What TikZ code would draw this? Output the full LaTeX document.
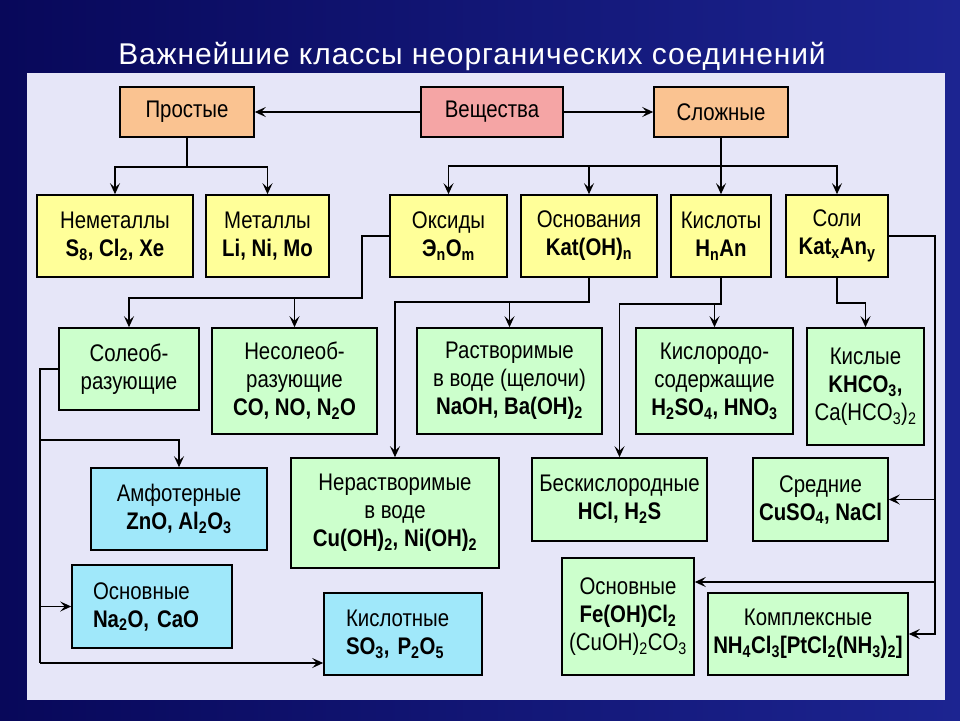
\documentclass[tikz,border=0pt]{standalone}
\usepackage{fontspec}
\setmainfont{Liberation Sans}[FakeStretch=0.85]
\newfontfamily\titlefont{Liberation Sans}[LetterSpace=3]
\usetikzlibrary{arrows.meta}
\definecolor{bgA}{RGB}{8,8,90}
\definecolor{bgB}{RGB}{28,36,145}
\definecolor{panel}{RGB}{230,230,248}
\definecolor{cyel}{RGB}{255,255,153}
\definecolor{cgrn}{RGB}{204,255,204}
\definecolor{cblu}{RGB}{160,232,250}
\definecolor{corg}{RGB}{250,195,145}
\definecolor{cpnk}{RGB}{245,165,165}
\newcommand\mkbox[7]{\node[bx,#2,minimum width={#5-#3},minimum height={#6-#4}] (#1) at ({(#3+#5)/2},{(#4+#6)/2}) {#7};}
\newcommand\sub[1]{\textsubscript{#1}}
\tikzset{
  bx/.style={draw=black,line width=1.6pt,inner sep=0pt,align=center,font=\fontsize{24}{28}\selectfont},
  arr/.style={line width=1.5pt,-{Stealth[length=11pt,width=10pt,inset=4.5pt]}},
  ln/.style={line width=1.5pt},
}
\begin{document}
\begin{tikzpicture}[x=1pt,y=-1pt]
\useasboundingbox (0,0) rectangle (960,720);
\shade[left color=bgA,right color=bgB] (0,0) rectangle (960,720);
\fill[panel] (27,73) rectangle (945,700);
\node[text=white,font=\titlefont\fontsize{30}{32}\selectfont] (title) at (472,56) {Важнейшие классы неорганических соединений};
% row 0
\mkbox{prost}{fill=corg}{120}{87}{254}{137}{Простые}
\mkbox{vesh}{fill=cpnk}{421}{87}{563}{137}{Вещества}
\mkbox{slozh}{fill=corg}{654}{87}{788}{137}{Сложные}
% row 1
\mkbox{nemet}{fill=cyel}{37}{195}{193}{277}{Неметаллы\\\textbf{S\sub{8}, Cl\sub{2}, Xe}}
\mkbox{met}{fill=cyel}{206}{195}{329}{277}{Металлы\\\textbf{Li, Ni, Mo}}
\mkbox{oks}{fill=cyel}{390}{195}{507}{277}{Оксиды\\\textbf{Э\sub{n}O\sub{m}}}
\mkbox{osn}{fill=cyel}{521}{195}{657}{277}{Основания\\\textbf{Kat(OH)\sub{n}}}
\mkbox{kisl}{fill=cyel}{671}{195}{771}{277}{Кислоты\\\textbf{H\sub{n}An}}
\mkbox{soli}{fill=cyel}{786}{195}{888}{277}{Соли\\\textbf{Kat\sub{x}An\sub{y}}}
% row 2
\mkbox{soleob}{fill=cgrn}{59}{328}{199}{410}{Солеоб-\\разующие}
\mkbox{nesoleob}{fill=cgrn}{212}{328}{377}{434}{Несолеоб-\\разующие\\\textbf{CO, NO, N\sub{2}O}}
\mkbox{rastv}{fill=cgrn}{417}{328}{602}{434}{Растворимые\\в воде (щелочи)\\\textbf{NaOH, Ba(OH)\sub{2}}}
\mkbox{kislorod}{fill=cgrn}{636}{328}{793}{434}{Кислородо-\\содержащие\\\textbf{H\sub{2}SO\sub{4}, HNO\sub{3}}}
\mkbox{kislye}{fill=cgrn}{807}{328}{924}{445}{Кислые\\\textbf{KHCO\sub{3},}\\Ca(HCO\sub{3})\sub{2}}
% row 3
\mkbox{amf}{fill=cblu}{91}{468}{267}{550}{Амфотерные\\\textbf{ZnO, Al\sub{2}O\sub{3}}}
\mkbox{nerastv}{fill=cgrn}{291}{458}{499}{568}{Нерастворимые\\в воде\\\textbf{Cu(OH)\sub{2}, Ni(OH)\sub{2}}}
\mkbox{beskisl}{fill=cgrn}{532}{458}{707}{541}{Бескислородные\\\textbf{HCl, H\sub{2}S}}
\mkbox{sredn}{fill=cgrn}{753}{458}{888}{541}{Средние\\\textbf{CuSO\sub{4}, NaCl}}
% row 4
\node[bx,fill=cblu,align=left,inner xsep=21pt,text width=118pt,minimum height=83pt] (osnoks) at (152,606.5) {Основные\\\textbf{Na\sub{2}O, CaO}};
\node[bx,fill=cblu,align=left,inner xsep=22pt,text width=114pt,minimum height=82pt] (kislotn) at (403,634) {Кислотные\\\textbf{SO\sub{3}, P\sub{2}O\sub{5}}};
\mkbox{osnsol}{fill=cgrn}{562}{558}{694}{675}{Основные\\\textbf{Fe(OH)Cl\sub{2}}\\(CuOH)\sub{2}CO\sub{3}}
\mkbox{kompl}{fill=cgrn}{708}{593}{908}{675}{Комплексные\\\textbf{NH\sub{4}Cl\sub{3}[PtCl\sub{2}(NH\sub{3})\sub{2}]}}
% junctions
\coordinate (j1) at (187,167);
\coordinate (j2) at (721,166);
\coordinate (j3) at (362,298);
\coordinate (j4) at (589,302);
\coordinate (j5) at (721,304);
\coordinate (j6) at (837,303);
\coordinate (rt) at (935,236);
\coordinate (rtb) at (935,582);
\coordinate (lt) at (40,369);
\coordinate (lta) at (40,440);
\coordinate (ltc) at (40,663);
% connectors
\draw[arr] (vesh.west) -- (prost.east);
\draw[arr] (vesh.east) -- (slozh.west);
\draw[ln] (prost.south) -- (j1);
\draw[arr] (j1) -| (nemet.north);
\draw[arr] (j1) -| (met.north);
\draw[arr] (slozh.south) -- (kisl.north);
\draw[arr] (j2) -| (oks.north);
\draw[arr] (j2) -| (soli.north);
\draw[arr] (osn.north |- j2) -- (osn.north);
\draw[arr] (oks.west) -| (j3) -| (soleob.north);
\draw[arr] (nesoleob.north |- j3) -- (nesoleob.north);
\draw[arr] (osn.south) -- (j4) -| (nerastv.north);
\draw[arr] (rastv.north |- j4) -- (rastv.north);
\draw[arr] (kisl.south) -- (j5) -| (beskisl.north);
\draw[arr] (kislorod.north |- j5) -- (kislorod.north);
\draw[arr] (soli.south) -- (j6) -| (kislye.north);
\draw[arr] (soli.east) -- (rt) |- (kompl.east);
\draw[arr] (rt |- sredn.east) -- (sredn.east);
\draw[arr] (rtb) -- (rtb -| osnsol.east);
\draw[ln] (soleob.west) -- (lt) -- (ltc);
\draw[arr] (lta) -| (amf.north);
\draw[arr] (lt |- osnoks.west) -- (osnoks.west);
\draw[arr] (ltc) -- (ltc -| kislotn.west);
\end{tikzpicture}
\end{document}
